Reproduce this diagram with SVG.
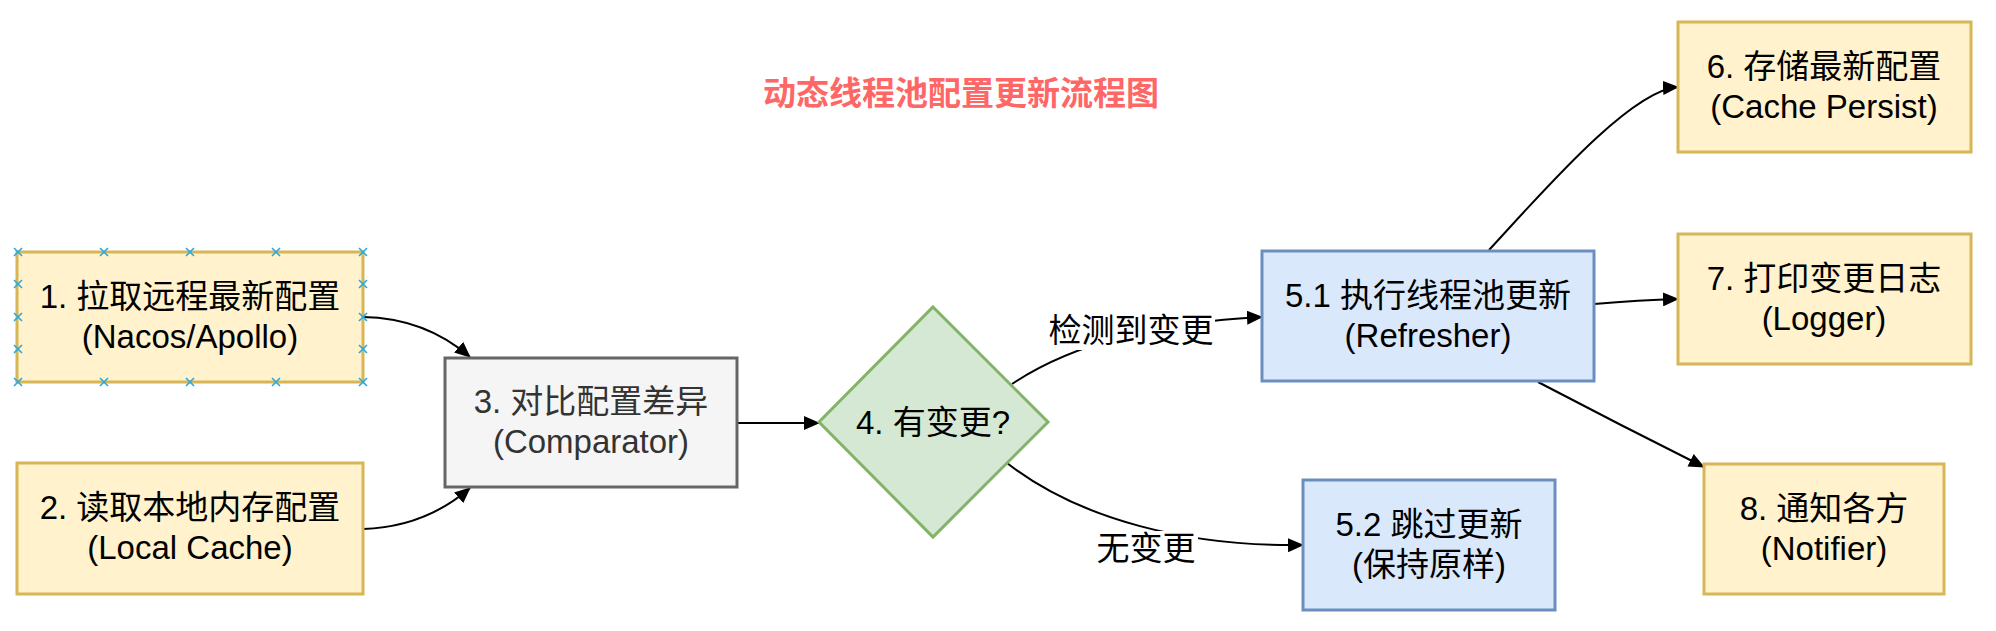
<svg xmlns="http://www.w3.org/2000/svg" width="1996" height="631" viewBox="0 0 1996 631">
<style>
  .t { font-family: "Liberation Sans", "Noto Sans CJK SC", sans-serif; font-size: 33px; text-anchor: middle; fill: #000; }
  .title { font-family: "Noto Sans CJK SC", "Liberation Sans", sans-serif; font-size: 33px; font-weight: bold; text-anchor: middle; fill: #ff6666; }
  .yellow { fill: #fff2cc; stroke: #d6b656; stroke-width: 3; }
  .blue { fill: #dae8fc; stroke: #6c8ebf; stroke-width: 3; }
  .green { fill: #d5e8d4; stroke: #82b366; stroke-width: 3; }
  .gray { fill: #f5f5f5; stroke: #666666; stroke-width: 3; }
  .edge { fill: none; stroke: #000; stroke-width: 2; marker-end: url(#arrow); }
  .cross { stroke: #29a8e0; stroke-width: 1.6; fill: none; }
</style>
<defs>
  <marker id="arrow" markerUnits="userSpaceOnUse" markerWidth="16" markerHeight="14" refX="15" refY="7" orient="auto">
    <path d="M0,0 L16,7 L0,14 z" fill="#000"/>
  </marker>
  <path id="x" d="M-4,-4 L4,4 M-4,4 L4,-4"/>
</defs>
<rect width="1996" height="631" fill="#fff"/>

<g id="title">
  <text class="title" x="961" y="105">动态线程池配置更新流程图</text>
</g>

<g id="connectors">
  <path class="edge" d="M363,317 Q425,318 470,357"/>
  <path class="edge" d="M363,529 Q425,527 470,488"/>
  <path class="edge" d="M737,423 L819,423"/>
  <path class="edge" d="M1012,384 Q1100,325 1262,317"/>
  <path class="edge" d="M1007,463 C1080,520 1190,547 1303,545"/>
  <path class="edge" d="M1489,250 C1540,195 1630,90 1678,87"/>
  <path class="edge" d="M1594,304 Q1640,300 1678,299"/>
  <path class="edge" d="M1538,382 Q1620,425 1704,467"/>
  <g id="label-yes">
    <rect x="1047" y="312" width="168" height="38" fill="#fff"/>
    <text class="t" x="1131" y="342">检测到变更</text>
  </g>
  <g id="label-no">
    <rect x="1094" y="531" width="104" height="36" fill="#fff"/>
    <text class="t" x="1146" y="560">无变更</text>
  </g>
</g>

<g id="node1">
  <rect class="yellow" x="17" y="252" width="346" height="130"/>
  <text class="t" x="190" y="308">1. 拉取远程最新配置</text>
  <text class="t" x="190" y="348">(Nacos/Apollo)</text>
  <g class="cross">
    <use href="#x" x="18" y="252"/><use href="#x" x="104" y="252"/><use href="#x" x="190" y="252"/><use href="#x" x="276" y="252"/><use href="#x" x="363" y="252"/>
    <use href="#x" x="18" y="382"/><use href="#x" x="104" y="382"/><use href="#x" x="190" y="382"/><use href="#x" x="276" y="382"/><use href="#x" x="363" y="382"/>
    <use href="#x" x="18" y="284"/><use href="#x" x="18" y="317"/><use href="#x" x="18" y="349"/>
    <use href="#x" x="363" y="284"/><use href="#x" x="363" y="317"/><use href="#x" x="363" y="349"/>
  </g>
</g>

<g id="node2">
  <rect class="yellow" x="17" y="463" width="346" height="131"/>
  <text class="t" x="190" y="519">2. 读取本地内存配置</text>
  <text class="t" x="190" y="559">(Local Cache)</text>
</g>

<g id="node3">
  <rect class="gray" x="445" y="358" width="292" height="129"/>
  <text class="t" x="591" y="413" style="fill:#333">3. 对比配置差异</text>
  <text class="t" x="591" y="453" style="fill:#333">(Comparator)</text>
</g>

<g id="node4">
  <polygon class="green" points="933,307 1048,422 933,537 819,422"/>
  <text class="t" x="933" y="434">4. 有变更?</text>
</g>

<g id="node51">
  <rect class="blue" x="1262" y="251" width="332" height="130"/>
  <text class="t" x="1428" y="307">5.1 执行线程池更新</text>
  <text class="t" x="1428" y="347">(Refresher)</text>
</g>

<g id="node52">
  <rect class="blue" x="1303" y="480" width="252" height="130"/>
  <text class="t" x="1429" y="536">5.2 跳过更新</text>
  <text class="t" x="1429" y="576">(保持原样)</text>
</g>

<g id="node6">
  <rect class="yellow" x="1678" y="22" width="293" height="130"/>
  <text class="t" x="1824" y="78">6. 存储最新配置</text>
  <text class="t" x="1824" y="118">(Cache Persist)</text>
</g>

<g id="node7">
  <rect class="yellow" x="1678" y="234" width="293" height="130"/>
  <text class="t" x="1824" y="290">7. 打印变更日志</text>
  <text class="t" x="1824" y="330">(Logger)</text>
</g>

<g id="node8">
  <rect class="yellow" x="1704" y="464" width="240" height="130"/>
  <text class="t" x="1824" y="520">8. 通知各方</text>
  <text class="t" x="1824" y="560">(Notifier)</text>
</g>
</svg>
